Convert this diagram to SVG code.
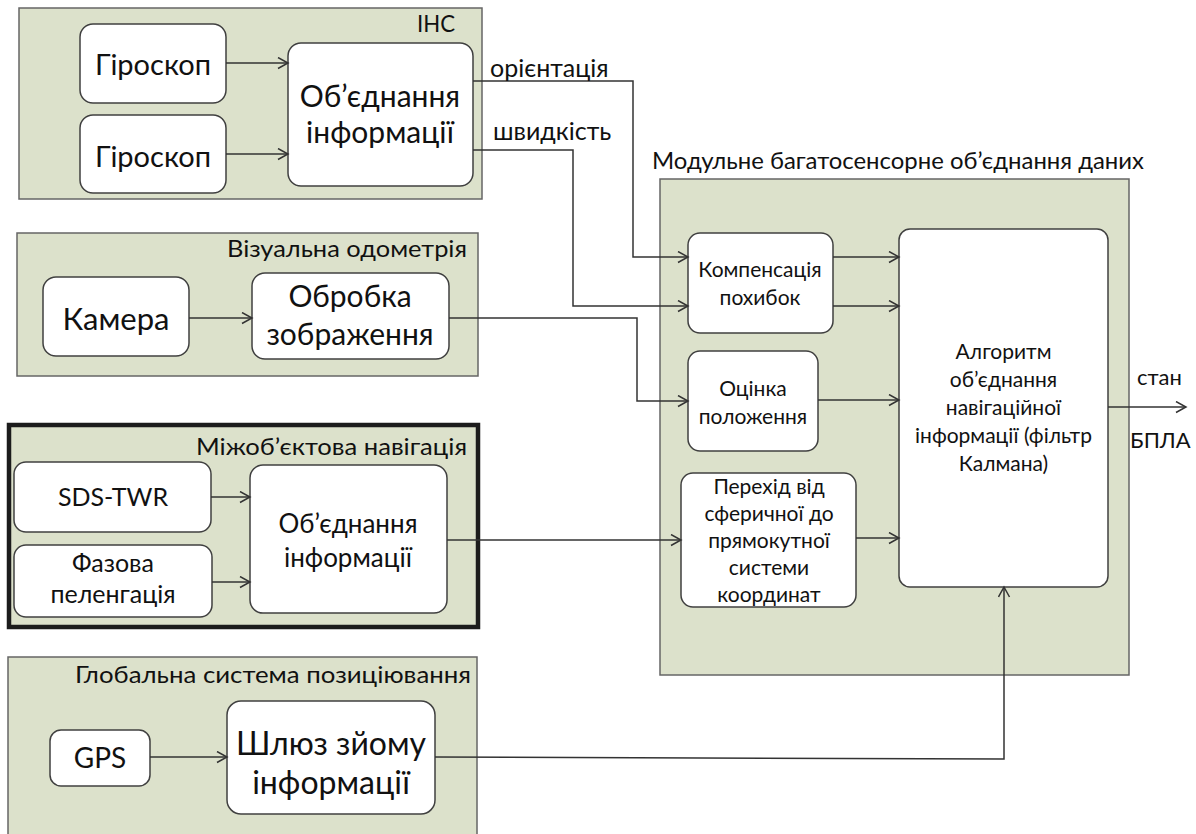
<svg xmlns="http://www.w3.org/2000/svg" width="1196" height="834" viewBox="0 0 1196 834">
<defs>
<marker id="arr" markerUnits="userSpaceOnUse" markerWidth="14" markerHeight="14" refX="11" refY="6" orient="auto">
<path d="M1,0.5 L11,6 L1,11.5" fill="none" stroke="#333" stroke-width="1.5"/>
</marker>
<style>
.grp{fill:#dce1cb;stroke:#666;stroke-width:1.5}
.thick{fill:#dce1cb;stroke:#1c1c1c;stroke-width:4.5}
.node{fill:#ffffff;stroke:#404040;stroke-width:1.5}
.t{font-family:Lato,"Liberation Sans",sans-serif;fill:#111;text-anchor:middle}
.ttl{font-family:Lato,"Liberation Sans",sans-serif;fill:#111;font-size:24px}
.lbl{font-family:Lato,"Liberation Sans",sans-serif;fill:#111}
.ca{fill:none;stroke:#333;stroke-width:1.5;marker-end:url(#arr)}
</style>
</defs>
<rect width="1196" height="834" fill="#ffffff"/>

<g id="ins">
<rect class="grp" x="19" y="8" width="463" height="191"/>
<text class="ttl" x="417" y="32" textLength="38" lengthAdjust="spacingAndGlyphs">ІНС</text>
</g>
<g id="vo">
<rect class="grp" x="17" y="233" width="461" height="143"/>
<text class="ttl" x="227" y="257" textLength="240" lengthAdjust="spacingAndGlyphs">Візуальна одометрія</text>
</g>
<g id="inter">
<rect class="thick" x="9" y="425" width="469" height="202"/>
<text class="ttl" x="196" y="455" textLength="271" lengthAdjust="spacingAndGlyphs">Міжоб’єктова навігація</text>
</g>
<g id="gps-sys">
<rect class="grp" x="8" y="657" width="469" height="200"/>
<text class="ttl" x="75" y="683" textLength="396" lengthAdjust="spacingAndGlyphs">Глобальна система позиціювання</text>
</g>
<g id="module">
<rect class="grp" x="660" y="179" width="469" height="496"/>
<text class="ttl" x="652" y="169" textLength="492" lengthAdjust="spacingAndGlyphs">Модульне багатосенсорне об’єднання даних</text>
</g>

<g id="gyro1">
<rect class="node" x="80" y="24" width="146" height="79" rx="13"/>
<text class="t" x="153" y="75" font-size="29">Гіроскоп</text>
</g>
<g id="gyro2">
<rect class="node" x="80" y="115" width="146" height="78" rx="13"/>
<text class="t" x="153" y="167" font-size="29">Гіроскоп</text>
</g>
<g id="ins-fusion">
<rect class="node" x="288" y="43" width="185" height="143" rx="13"/>
<text class="t" x="380" y="107" font-size="30">Об’єднання</text>
<text class="t" x="380" y="143" font-size="30">інформації</text>
</g>
<g id="camera">
<rect class="node" x="43" y="277" width="146" height="79" rx="13"/>
<text class="t" x="116" y="330" font-size="31">Камера</text>
</g>
<g id="imgproc">
<rect class="node" x="252" y="273" width="197" height="86" rx="13"/>
<text class="t" x="350" y="307" font-size="30">Обробка</text>
<text class="t" x="350" y="345" font-size="30">зображення</text>
</g>
<g id="sds">
<rect class="node" x="14" y="462" width="197" height="70" rx="12"/>
<text class="t" x="113" y="506" font-size="25">SDS-TWR</text>
</g>
<g id="phase">
<rect class="node" x="14" y="545" width="198" height="72" rx="12"/>
<text class="t" x="113" y="572" font-size="25">Фазова</text>
<text class="t" x="113" y="603" font-size="25">пеленгація</text>
</g>
<g id="inter-fusion">
<rect class="node" x="250" y="465" width="197" height="148" rx="13"/>
<text class="t" x="348" y="533" font-size="26">Об’єднання</text>
<text class="t" x="348" y="567" font-size="26">інформації</text>
</g>
<g id="gps">
<rect class="node" x="50" y="730" width="100" height="56" rx="11"/>
<text class="t" x="100" y="768" font-size="28">GPS</text>
</g>
<g id="gateway">
<rect class="node" x="227" y="701" width="208" height="113" rx="14"/>
<text class="t" x="331" y="755" font-size="32">Шлюз зйому</text>
<text class="t" x="331" y="794" font-size="32">інформації</text>
</g>
<g id="comp">
<rect class="node" x="688" y="233" width="145" height="100" rx="12"/>
<text class="t" x="760" y="277" font-size="21">Компенсація</text>
<text class="t" x="760" y="305" font-size="21">похибок</text>
</g>
<g id="pose">
<rect class="node" x="688" y="351" width="130" height="100" rx="12"/>
<text class="t" x="753" y="396" font-size="21">Оцінка</text>
<text class="t" x="753" y="424" font-size="21">положення</text>
</g>
<g id="conv">
<rect class="node" x="681" y="473" width="175" height="134" rx="12"/>
<text class="t" x="769" y="494" font-size="21">Перехід від</text>
<text class="t" x="769" y="521" font-size="21">сферичної до</text>
<text class="t" x="769" y="548" font-size="21">прямокутної</text>
<text class="t" x="769" y="575" font-size="21">системи</text>
<text class="t" x="769" y="602" font-size="21">координат</text>
</g>
<g id="kalman">
<rect class="node" x="899" y="229" width="209" height="358" rx="11"/>
<text class="t" x="1003.5" y="359" font-size="21">Алгоритм</text>
<text class="t" x="1003.5" y="387" font-size="21">об’єднання</text>
<text class="t" x="1003.5" y="415" font-size="21">навігаційної</text>
<text class="t" x="1003.5" y="443" font-size="21">інформації (фільтр</text>
<text class="t" x="1003.5" y="471" font-size="21">Калмана)</text>
</g>

<g id="connectors">
<path class="ca" d="M226,63 H288"/>
<path class="ca" d="M226,154 H288"/>
<path class="ca" d="M473,81 H633 V257 H688"/>
<path class="ca" d="M473,150 H573 V306 H688"/>
<path class="ca" d="M189,318 H252"/>
<path class="ca" d="M449,318 H637 V401 H688"/>
<path class="ca" d="M211,497 H250"/>
<path class="ca" d="M212,582 H250"/>
<path class="ca" d="M447,540 H681"/>
<path class="ca" d="M833,257 H899"/>
<path class="ca" d="M833,306 H899"/>
<path class="ca" d="M818,400 H899"/>
<path class="ca" d="M856,538 H899"/>
<path class="ca" d="M150,757 H227"/>
<path class="ca" d="M435,757 L1004,759 V587"/>
<path class="ca" d="M1108,407 H1186"/>
<text class="lbl" x="490" y="77" font-size="25">орієнтація</text>
<text class="lbl" x="493" y="140" font-size="25">швидкість</text>
<text class="lbl" x="1137" y="385" font-size="22">стан</text>
<text class="lbl" x="1130" y="448" font-size="22">БПЛА</text>
</g>
</svg>
